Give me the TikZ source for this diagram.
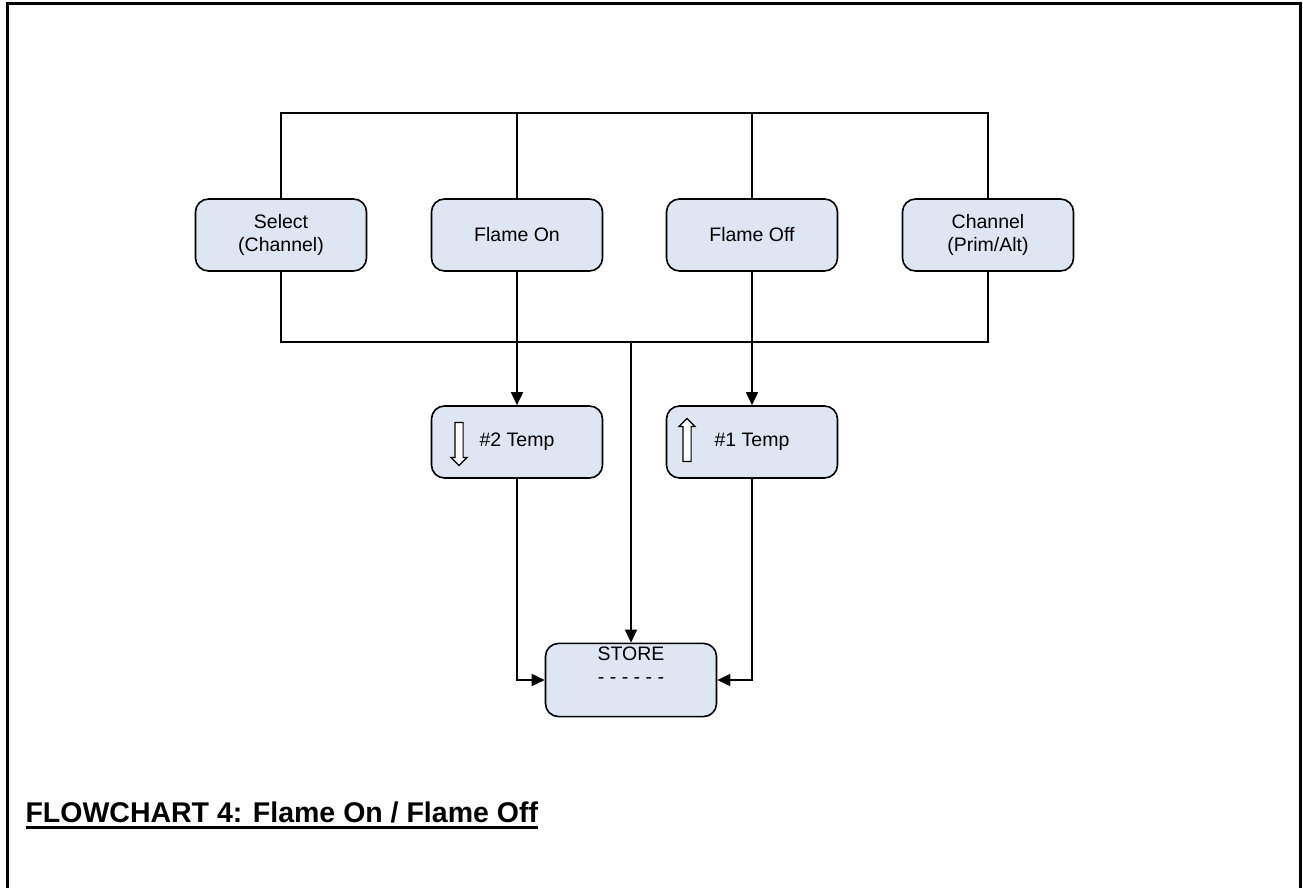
\documentclass[tikz,border=0pt]{standalone}
\usepackage{fontspec}
\setmainfont{Liberation Sans}
\usetikzlibrary{arrows.meta,shapes.arrows}
\definecolor{boxblue}{RGB}{222,230,242}
\newcommand\thickul[1]{\vtop{\hbox{#1}\kern3.5pt\hrule height 2.6pt}}

\begin{document}
\begin{tikzpicture}[x=1pt,y=-1pt,>={Triangle[length=13pt,width=12pt]}]
\tikzstyle{key}=[rectangle,rounded corners=13pt,draw,line width=1.6pt,fill=boxblue,minimum width=171pt,minimum height=72pt,align=center,font=\fontsize{19.5}{23}\selectfont]
\tikzstyle{wire}=[line width=1.6pt]
\tikzstyle{hollow}=[single arrow,draw,fill=white,line width=1.2pt,inner xsep=0pt,inner ysep=3.5pt,single arrow head extend=4pt,minimum height=43pt]

\useasboundingbox (0,0) rectangle (1303,888);
\draw[line width=3pt] (7,888) -- (7,4) -- (1300,4) -- (1300,888);

\node[key] (sel)  at (281,235) {Select\\(Channel)};
\node[key] (on)   at (517,235) {Flame On};
\node[key] (off)  at (752,235) {Flame Off};
\node[key] (chan) at (988,235) {Channel\\(Prim/Alt)};

\coordinate (topL) at (281,113);
\coordinate (topR) at (988,113);
\draw[wire] (sel.north) -- (topL) -- (topR) -- (chan.north);
\draw[wire] (on.north) -- (on.north |- topL);
\draw[wire] (off.north) -- (off.north |- topL);

\node[key] (t2) at (517,442) {\#2 Temp};
\node[key] (t1) at (752,442) {\#1 Temp};
\node[hollow,rotate=-90] (dn) at (459,442) {};
\node[hollow,rotate=90]  (up) at (687,442) {};

\node[key] (store) at (631,680) {STORE\\- - - - - -\\ \strut};

\coordinate (bus) at (631,342);
\draw[wire] (sel.south) |- (bus);
\draw[wire] (chan.south) |- (bus);
\draw[wire,->] (bus) -- (store.north);
\draw[wire,->] (on.south) -- (t2.north);
\draw[wire,->] (off.south) -- (t1.north);
\draw[wire,->] (t2.south) |- (store.west);
\draw[wire,->] (t1.south) |- (store.east);

\node[anchor=base west,font=\bfseries\fontsize{28.5}{32}\selectfont] (title) at (22,822) {\thickul{FLOWCHART 4: Flame On / Flame Off}};

\end{tikzpicture}
\end{document}
